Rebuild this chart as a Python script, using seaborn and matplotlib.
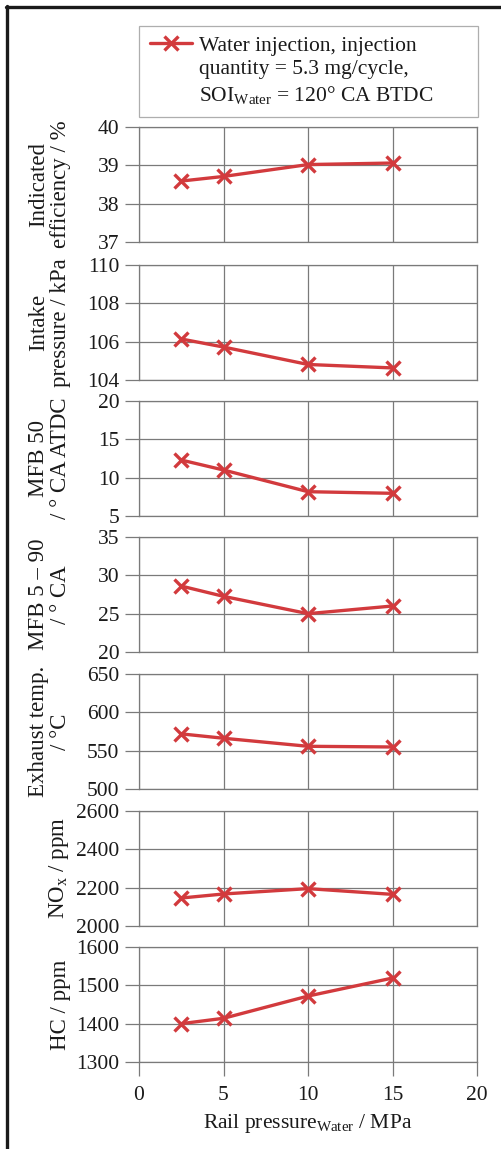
import matplotlib
matplotlib.use("Agg")
import matplotlib.pyplot as plt
from matplotlib.lines import Line2D
from matplotlib.legend_handler import HandlerLine2D
import numpy as np
import seaborn as sns
import pandas as pd

sns.set_theme(style="white")
plt.rcParams["font.family"] = ["Liberation Serif", "DejaVu Serif"]
plt.rcParams["mathtext.fontset"] = "custom"
plt.rcParams["mathtext.rm"] = "Liberation Serif"
plt.rcParams["mathtext.it"] = "Liberation Serif:italic"

# Rail pressure of the water injector (MPa)
rail_pressure = [2.5, 5, 10, 15]

efficiency = [38.59, 38.71, 39.02, 39.06]
intake_pressure = [106.14, 105.72, 104.81, 104.63]
mfb50 = [12.3, 11.0, 8.17, 7.96]
mfb5_90 = [28.6, 27.26, 25.0, 26.0]
exhaust_temp = [571.9, 566.2, 555.7, 554.8]
nox = [2146, 2167, 2195, 2165]
hc = [1400, 1414, 1472, 1519]

panel_labels = [
    "Indicated\nefficiency / %",
    "Intake\npressure / kPa",
    "MFB 50\n/ ° CA ATDC",
    "MFB 5 – 90\n/ ° CA",
    "Exhaust temp.\n/ °C",
    "NO$_\\mathregular{x}$ / ppm",
    "HC / ppm",
]
panel_values = [efficiency, intake_pressure, mfb50, mfb5_90, exhaust_temp, nox, hc]
panel_limits = [(37, 40), (104, 110), (5, 20), (20, 35), (500, 650), (2000, 2600), (1300, 1600)]
panel_ticks = [
    [37, 38, 39, 40],
    [104, 106, 108, 110],
    [5, 10, 15, 20],
    [20, 25, 30, 35],
    [500, 550, 600, 650],
    [2000, 2200, 2400, 2600],
    [1300, 1400, 1500, 1600],
]
x_ticks = [0, 5, 10, 15, 20]

legend_text = "Water injection, injection\nquantity = 5.3 mg/cycle,\nSOI$_\\mathregular{Water}$ = 120° CA BTDC"
x_label = "Rail pressure$_\\mathregular{Water}$ / MPa"

W, H = 501, 1149
fig = plt.figure(figsize=(W / 100, H / 100), dpi=100)

red = "#d23a3d"
grid_c = "#7a7a7a"
text_c = "#1a1a1a"
fs_tick = 15.5
fs_label = 16.5

# Frame lines along the left and top edge of the figure
fig.add_artist(Line2D([7 / W, 7 / W], [0, 1 - 6 / H], color="#1a1a1a", lw=2.4,
                      transform=fig.transFigure))
fig.add_artist(Line2D([6 / W, 1], [1 - 7 / H, 1 - 7 / H], color="#1a1a1a", lw=2.4,
                      transform=fig.transFigure))

left_px, right_px = 139, 477
tops_px = [127, 265, 401, 537, 674, 811, 947]
height_px = 115

for i, (lab, vals, lim, yt, top) in enumerate(
        zip(panel_labels, panel_values, panel_limits, panel_ticks, tops_px)):
    ax = fig.add_axes([left_px / W, 1 - (top + height_px) / H,
                       (right_px - left_px) / W, height_px / H])
    df = pd.DataFrame({"x": rail_pressure, "y": vals})
    sns.lineplot(data=df, x="x", y="y", ax=ax, color=red, lw=2.4,
                 marker="x", markersize=10, markeredgewidth=2.4,
                 markeredgecolor=red, zorder=5)
    ax.set_xlim(0, 20)
    ax.set_ylim(*lim)
    ax.set_yticks(yt)
    ax.set_xticks(x_ticks)
    ax.grid(True, color=grid_c, lw=0.9)
    for s in ax.spines.values():
        s.set_color(grid_c)
        s.set_linewidth(0.9)
    ax.tick_params(axis="y", left=True, length=10, width=0.9, color=grid_c,
                   labelsize=fs_tick, pad=4, labelcolor=text_c)
    last = i == len(panel_labels) - 1
    ax.tick_params(axis="x", bottom=last, length=10, width=0.9, color=grid_c,
                   labelbottom=last, labelsize=fs_tick, pad=7, labelcolor=text_c)
    ax.set_xlabel(x_label if last else "", fontsize=fs_tick, color=text_c, labelpad=5)
    ax.set_ylabel(lab, fontsize=fs_label, color=text_c, linespacing=1.1)
    ax.yaxis.set_label_coords(-0.2, 0.5)


class TopAlignedLine(HandlerLine2D):
    """Line handle raised to sit beside the first line of a multi-line label."""

    def __init__(self, dy, **kw):
        super().__init__(**kw)
        self.dy = dy

    def create_artists(self, *args, **kwargs):
        artists = super().create_artists(*args, **kwargs)
        for a in artists:
            a.set_ydata(np.asarray(a.get_ydata()) + self.dy)
        return artists


handle = Line2D([], [], color=red, lw=2.4, marker="x", markersize=10,
                markeredgewidth=2.4)
leg = fig.legend([handle], [legend_text], loc="upper left",
                 bbox_to_anchor=(left_px / W, 1 - 26 / H, (right_px + 1 - left_px) / W, 0),
                 mode="expand", fontsize=fs_tick, frameon=True, fancybox=False,
                 edgecolor="#9a9a9a", handlelength=1.95, handletextpad=0.33,
                 borderpad=0.5, borderaxespad=0,
                 handler_map={Line2D: TopAlignedLine(dy=20)})
leg.get_frame().set_linewidth(0.9)
for t in leg.get_texts():
    t.set_color(text_c)
    t.set_linespacing(1.3)

fig.savefig("out.png", dpi=100, facecolor="white")
